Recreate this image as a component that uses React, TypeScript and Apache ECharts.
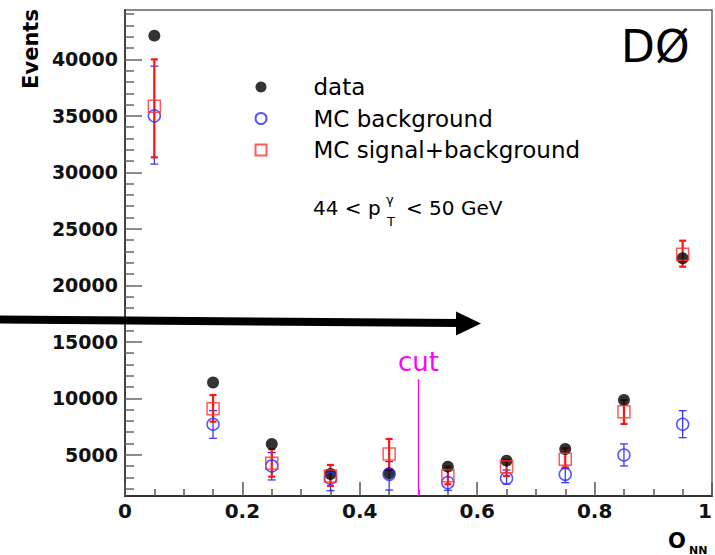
import React, { useEffect, useRef } from "react";
import * as echarts from "echarts";

const FONT = '"DejaVu Sans", "Liberation Sans", sans-serif';

// Bin centres (O_NN)
const binCenters = [0.05, 0.15, 0.25, 0.35, 0.45, 0.55, 0.65, 0.75, 0.85, 0.95];

// data
const dataValues = [42100, 11400, 5950, 3300, 3360, 3950, 4480, 5510, 9850, 22400];

// MC background
const bkgValues = [35000, 7700, 4010, 2920, 3270, 2530, 2920, 3270, 4980, 7700];
const bkgErrLow = [30730, 6460, 2770, 1820, 1880, 1860, 2410, 2530, 4010, 6510];
const bkgErrHigh = [39400, 8900, 5190, 3650, 4390, 3650, 3650, 3800, 5960, 8900];

// MC signal+background
const sigValues = [35860, 9080, 4250, 3120, 5070, 3150, 3950, 4600, 8810, 22740];
const sigErrLow = [31330, 7930, 3060, 2240, 3650, 2390, 3120, 3890, 7730, 21650];
const sigErrHigh = [40000, 10290, 5490, 4100, 6400, 3950, 4540, 5575, 9850, 23950];

// axes
const yMin = 1350;
const yMax = 44370;
const yMajorTicks = [5000, 10000, 15000, 20000, 25000, 30000, 35000, 40000];
const yMinorTicks = [
  2000, 3000, 4000, 6000, 7000, 8000, 9000, 11000, 12000, 13000, 14000, 16000, 17000, 18000, 19000,
  21000, 22000, 23000, 24000, 26000, 27000, 28000, 29000, 31000, 32000, 33000, 34000, 36000, 37000,
  38000, 39000, 41000, 42000, 43000, 44000,
];
const cutValue = 0.5;
const cutTop = 11700;

const legendNames = ["data", "MC background", "MC signal+background"];

const BLUE = "#2b2bff";
const RED = "#ff1414";

function errorRender(color: string, lw: number, capHalf: number) {
  return (_params: any, api: any) => {
    const x = api.value(0);
    const lo = api.value(1);
    const hi = api.value(2);
    const top = api.coord([x, hi]);
    const bot = api.coord([x, lo]);
    const st = { stroke: color, lineWidth: lw };
    return {
      type: "group",
      children: [
        { type: "line", shape: { x1: top[0], y1: top[1], x2: bot[0], y2: bot[1] }, style: st },
        { type: "line", shape: { x1: top[0] - capHalf, y1: top[1], x2: top[0] + capHalf, y2: top[1] }, style: st },
        { type: "line", shape: { x1: bot[0] - capHalf, y1: bot[1], x2: bot[0] + capHalf, y2: bot[1] }, style: st },
      ],
    };
  };
}

export default function App() {
  const ref = useRef<HTMLDivElement>(null);
  useEffect(() => {
    document.body.style.margin = "0";
    const chart = echarts.init(ref.current!, null, { renderer: "svg" });
    const option: any = {
      animation: false,
      backgroundColor: "#ffffff",
      grid: {
        left: 125,
        top: 10,
        right: 3,
        bottom: 59,
        containLabel: false,
        outerBoundsMode: "none",
        show: true,
        borderColor: "#6a6262",
        borderWidth: 1.5,
        backgroundColor: "transparent",
      },
      xAxis: {
        type: "value",
        min: 0,
        max: 1,
        interval: 0.2,
        axisLine: { show: true, lineStyle: { color: "#333", width: 2 } },
        axisTick: { show: true, inside: true, length: 14, lineStyle: { color: "#555", width: 1.5 } },
        minorTick: { show: true, splitNumber: 4, length: 7, lineStyle: { color: "#555", width: 1.5 } },
        splitLine: { show: false },
        axisLabel: {
          fontFamily: FONT,
          fontWeight: "bold",
          fontSize: 20,
          color: "#111",
          margin: 5,
          alignMaxLabel: "right",
        },
      },
      yAxis: [
        {
          type: "value",
          min: yMin,
          max: yMax,
          position: "left",
          axisLine: { show: true, lineStyle: { color: "#444", width: 2 } },
          axisTick: {
            show: true,
            inside: true,
            length: 17,
            customValues: yMajorTicks,
            lineStyle: { color: "#666", width: 1.5 },
          },
          axisLabel: {
            customValues: yMajorTicks,
            formatter: (v: number) => String(v),
            fontFamily: FONT,
            fontWeight: "bold",
            fontSize: 19,
            color: "#111",
            margin: 7,
          },
          splitLine: { show: false },
        },
        {
          type: "value",
          min: yMin,
          max: yMax,
          position: "left",
          offset: 0,
          axisLine: { show: false },
          axisTick: {
            show: true,
            inside: true,
            length: 9,
            customValues: yMinorTicks,
            lineStyle: { color: "#666", width: 1.5 },
          },
          axisLabel: { show: false },
          splitLine: { show: false },
        },
      ],
      legend: {
        data: legendNames,
        orient: "vertical",
        left: 254.5,
        top: 75,
        padding: 0,
        itemWidth: 11,
        itemHeight: 11,
        itemGap: 7.5,
        textStyle: {
          fontFamily: FONT,
          fontSize: 23,
          lineHeight: 24,
          color: "#000",
          padding: [0, 0, 0, 42],
        },
      },
      series: [
        {
          name: "data",
          type: "scatter",
          yAxisIndex: 0,
          symbol: "circle",
          symbolSize: 12,
          itemStyle: { color: "#000" },
          data: binCenters.map((x, i) => [x, dataValues[i]]),
        },
        {
          type: "custom",
          yAxisIndex: 0,
          renderItem: errorRender(BLUE, 1.2, 4),
          encode: { x: 0, y: [1, 2] },
          data: binCenters.map((x, i) => [x, bkgErrLow[i], bkgErrHigh[i]]),
        },
        {
          name: "MC background",
          type: "scatter",
          yAxisIndex: 0,
          symbol: "circle",
          symbolSize: 12,
          itemStyle: { color: "rgba(0,0,0,0)", borderColor: BLUE, borderWidth: 1.5 },
          data: binCenters.map((x, i) => [x, bkgValues[i]]),
        },
        {
          type: "custom",
          yAxisIndex: 0,
          renderItem: errorRender(RED, 2.2, 3.5),
          encode: { x: 0, y: [1, 2] },
          data: binCenters.map((x, i) => [x, sigErrLow[i], sigErrHigh[i]]),
        },
        {
          name: "MC signal+background",
          type: "scatter",
          yAxisIndex: 0,
          symbol: "rect",
          symbolSize: 12,
          itemStyle: { color: "rgba(0,0,0,0)", borderColor: "#ff3030", borderWidth: 1.5 },
          data: binCenters.map((x, i) => [x, sigValues[i]]),
        },
        {
          type: "custom",
          yAxisIndex: 0,
          data: [[cutValue, cutTop]],
          renderItem: (_p: any, api: any) => {
            const top = api.coord([api.value(0), api.value(1)]);
            const bot = api.coord([api.value(0), yMin]);
            return {
              type: "group",
              children: [
                {
                  type: "line",
                  shape: { x1: top[0], y1: top[1], x2: bot[0], y2: bot[1] },
                  style: { stroke: "#ff00ff", lineWidth: 1.2 },
                },
                {
                  type: "text",
                  x: top[0],
                  y: top[1] - 17,
                  style: {
                    text: "cut",
                    fill: "#ff00ff",
                    font: `26px ${FONT}`,
                    align: "center",
                    verticalAlign: "middle",
                  },
                },
              ],
            };
          },
        },
      ],
      graphic: [
        {
          type: "text",
          x: 31,
          y: 49,
          rotation: Math.PI / 2,
          style: {
            text: "Events",
            fill: "#000",
            font: `bold 21px ${FONT}`,
            align: "center",
            verticalAlign: "middle",
          },
        },
        {
          type: "text",
          x: 621,
          y: 46.5,
          style: { text: "DØ", fill: "#000", font: `44px ${FONT}`, align: "left", verticalAlign: "middle" },
        },
        {
          type: "text",
          x: 313,
          y: 208,
          style: { text: "44 < p", fill: "#000", font: `20px ${FONT}`, align: "left", verticalAlign: "middle" },
        },
        {
          type: "text",
          x: 386,
          y: 199,
          style: { text: "γ", fill: "#000", font: `13px ${FONT}`, align: "left", verticalAlign: "middle" },
        },
        {
          type: "text",
          x: 387,
          y: 221,
          style: { text: "T", fill: "#000", font: `13px ${FONT}`, align: "left", verticalAlign: "middle" },
        },
        {
          type: "text",
          x: 406,
          y: 208,
          style: { text: "< 50 GeV", fill: "#000", font: `20px ${FONT}`, align: "left", verticalAlign: "middle" },
        },
        {
          type: "text",
          x: 668,
          y: 540.5,
          style: { text: "O", fill: "#000", font: `bold 21px ${FONT}`, align: "left", verticalAlign: "middle" },
        },
        {
          type: "text",
          x: 689,
          y: 550,
          style: { text: "NN", fill: "#000", font: `bold 11px ${FONT}`, align: "left", verticalAlign: "middle" },
        },
        {
          type: "line",
          z: 100,
          shape: { x1: 0, y1: 319.5, x2: 460, y2: 323 },
          style: { stroke: "#000", lineWidth: 8 },
        },
        {
          type: "polygon",
          z: 100,
          shape: { points: [[456, 311.5], [481, 323.5], [456, 335.5]] },
          style: { fill: "#000" },
        },
      ],
    };
    chart.setOption(option);
    return () => chart.dispose();
  }, []);
  return <div ref={ref} style={{ width: 715, height: 555 }} />;
}
